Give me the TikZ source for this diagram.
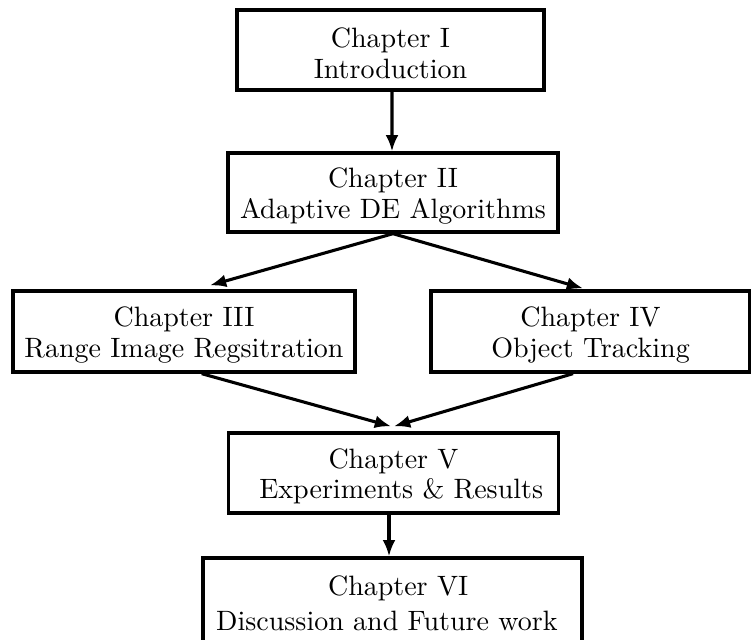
\documentclass[tikz,border=0pt]{standalone}
\usetikzlibrary{arrows.meta,calc}
\newcommand\pxu{0.3571pt}
% a tall invisible strut on the first line lowers the two text lines a little
\newcommand\chapstrut{\rule{0pt}{9.5pt}}
\tikzset{
  chapbox/.style={draw, line width=1.2pt, align=center, inner sep=0pt,
    font=\fontsize{10}{10.9}\selectfont},
  flow/.style={line width=1.1pt, -{Latex[length=5.8pt,width=4.6pt]}}
}
\begin{document}
\begin{tikzpicture}[x=\pxu, y=-\pxu]
  \useasboundingbox (0,0) rectangle (751,639);

  \node[chapbox, minimum width=109.6pt, minimum height=28.6pt] (c1) at (390.5,50)
    {\chapstrut Chapter I\\Introduction};
  \node[chapbox, minimum width=117.8pt, minimum height=28.2pt] (c2) at (393,192.5)
    {\chapstrut Chapter II\\Adaptive DE Algorithms};
  \node[chapbox, minimum width=122.1pt, minimum height=28.9pt] (c3) at (184,331.5)
    {\chapstrut Chapter III\\Range Image Regsitration};
  \node[chapbox, minimum width=113.9pt, minimum height=28.9pt] (c4) at (590.5,331.5)
    {\chapstrut Chapter IV\\Object Tracking};
  \node[chapbox, minimum width=117.8pt, minimum height=28.6pt] (c5) at (393.5,473)
    {\chapstrut Chapter V\\\hspace*{5.5pt}Experiments \& Results};
  \node[chapbox, minimum width=135.3pt, minimum height=30pt] (c6) at (392.5,600)
    {\chapstrut\hspace*{4pt}Chapter VI\\[1.8pt]Discussion and Future work\hspace*{4pt}};

  \draw[flow] ($(c1.south)+(1.5,0)$) -- ($(c2.north)+(-1,0)$);
  \draw[flow] (c2.south) -- ($(c3.north)+(26,-4)$);
  \draw[flow] (c2.south) -- ($(c4.north)+(-7.5,-1)$);
  \draw[flow] ($(c3.south)+(17.7,0)$) -- ($(c5.north)+(-2.5,-5)$);
  \draw[flow] ($(c4.south)+(-17.5,0)$) -- ($(c5.north)+(0.5,-5)$);
  \draw[flow] ($(c5.south)+(-4.5,0)$) -- ($(c6.north)+(-3.5,0)$);
\end{tikzpicture}
\end{document}
